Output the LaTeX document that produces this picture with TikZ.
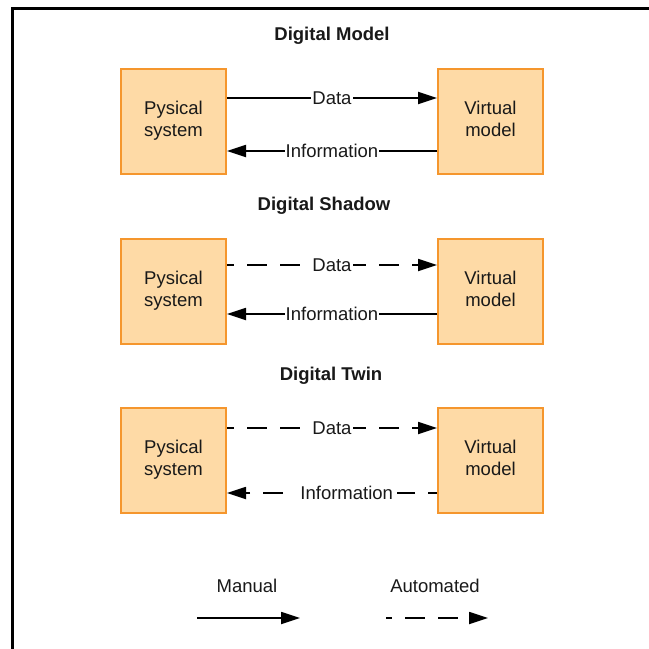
\documentclass[tikz,border=0pt]{standalone}
\usepackage{fontspec}
\setmainfont{Liberation Sans}
\usetikzlibrary{arrows.meta}
\definecolor{boxfill}{RGB}{254,218,166}
\definecolor{boxline}{RGB}{245,150,45}
\definecolor{ink}{RGB}{25,25,25}
\begin{document}
\begin{tikzpicture}[x=1pt,y=-1pt,
  font=\fontsize{18.5}{22}\selectfont,
  sysbox/.style={draw=boxline,fill=boxfill,line width=2pt,minimum width=105pt,
    minimum height=105pt,align=center,text=ink,inner sep=0pt},
  title/.style={font=\fontsize{18.5}{22}\selectfont\bfseries,text=ink},
  link/.style={draw=black,line width=1.8pt,-{Triangle[length=19pt,width=12pt]}},
  auto link/.style={link,dash pattern=on 20pt off 13pt,dash phase=13pt},
  tag/.style={fill=white,inner xsep=1pt,inner ysep=1pt,text=ink},
  legendtxt/.style={text=ink}]
\useasboundingbox (0,0) rectangle (649,649);
\fill[white] (0,0) rectangle (649,649);
% outer frame (left and top edges)
\draw[line width=3pt,line cap=rect] (12,660) -- (12,8) -- (660,8);

% Digital Model
\node[title] (t1) at (332,36) {Digital Model};
\node[sysbox] (p1) at (173.5,121.5) {Pysical\strut\\system\strut};
\node[sysbox] (v1) at (490.5,121.5) {Virtual\strut\\model\strut};
\draw[link] ([yshift=23.5pt]p1.east) -- node[tag] {Data} ([yshift=23.5pt]v1.west);
\draw[link] ([yshift=-29.5pt]v1.west) -- node[tag] {Information} ([yshift=-29.5pt]p1.east);

% Digital Shadow
\node[title] (t2) at (324,206) {Digital Shadow};
\node[sysbox] (p2) at (173.5,291) {Pysical\strut\\system\strut};
\node[sysbox] (v2) at (490.5,291) {Virtual\strut\\model\strut};
\draw[auto link] ([yshift=26pt]p2.east) -- node[tag] {Data} ([yshift=26pt]v2.west);
\draw[link] ([yshift=-23pt]v2.west) -- node[tag] {Information} ([yshift=-23pt]p2.east);

% Digital Twin
\node[title] (t3) at (331,376) {Digital Twin};
\node[sysbox] (p3) at (173.5,460) {Pysical\strut\\system\strut};
\node[sysbox] (v3) at (490.5,460) {Virtual\strut\\model\strut};
\draw[auto link] ([yshift=32pt]p3.east) -- node[tag] {Data} ([yshift=32pt]v3.west);
\draw[auto link,dash phase=11pt] ([yshift=-33pt]v3.west) -- node[tag,pos=0.43,inner xsep=4pt] {Information} ([yshift=-33pt]p3.east);

% legend
\node[legendtxt] (lm) at (247,586) {Manual};
\node[legendtxt] (la) at (435,586) {Automated};
\coordinate (m1) at (197,618);
\coordinate (m2) at (300,618);
\coordinate (a1) at (386,618);
\coordinate (a2) at (488,618);
\draw[link] (m1) -- (m2);
\draw[auto link,dash phase=14pt] (a1) -- (a2);
\end{tikzpicture}
\end{document}
